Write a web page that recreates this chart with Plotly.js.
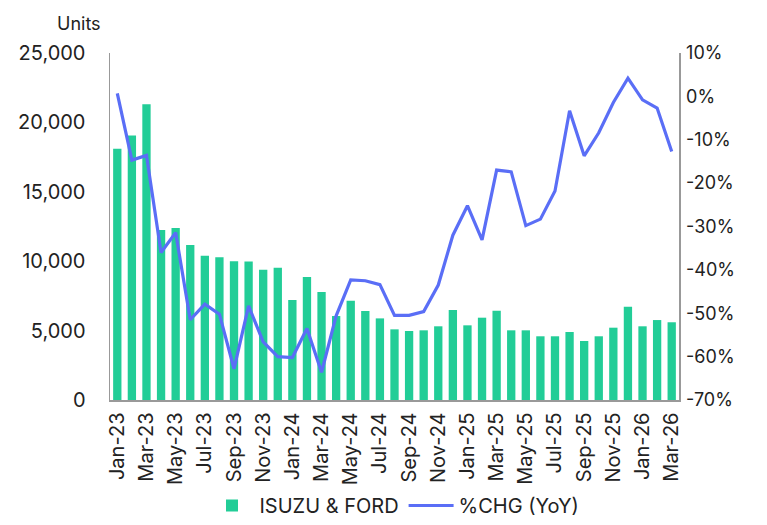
<!DOCTYPE html>
<html>
<head>
<meta charset="utf-8">
<script src="https://cdn.plot.ly/plotly-3.0.1.min.js"></script>
<style>html,body{margin:0;padding:0;background:#fff;}#chart{width:767px;height:525px;}</style>
</head>
<body>
<div id="chart"></div>
<script>
const months = ["Jan-23","Feb-23","Mar-23","Apr-23","May-23","Jun-23","Jul-23","Aug-23","Sep-23","Oct-23","Nov-23","Dec-23",
"Jan-24","Feb-24","Mar-24","Apr-24","May-24","Jun-24","Jul-24","Aug-24","Sep-24","Oct-24","Nov-24","Dec-24",
"Jan-25","Feb-25","Mar-25","Apr-25","May-25","Jun-25","Jul-25","Aug-25","Sep-25","Oct-25","Nov-25","Dec-25",
"Jan-26","Feb-26","Mar-26"];
const units = [18100,19050,21300,12250,12400,11170,10400,10280,9990,9970,9390,9530,
7200,8860,7780,6050,7150,6410,5880,5090,4970,5020,5310,6480,
5380,5930,6430,5020,5020,4590,4590,4900,4250,4590,5210,6720,
5310,5760,5600];
const pctChg = [0.7,-14.7,-13.6,-36.0,-31.4,-51.5,-47.9,-50.2,-62.8,-48.3,-56.6,-60.0,
-60.2,-53.5,-63.6,-50.6,-42.3,-42.5,-43.4,-50.5,-50.5,-49.6,-43.5,-32.0,
-25.2,-33.1,-17.0,-17.4,-29.8,-28.3,-21.8,-3.3,-13.7,-8.4,-1.4,4.2,
-0.8,-2.7,-12.7];
const tickLabels = ["Jan-23","Mar-23","May-23","Jul-23","Sep-23","Nov-23","Jan-24","Mar-24","May-24","Jul-24",
"Sep-24","Nov-24","Jan-25","Mar-25","May-25","Jul-25","Sep-25","Nov-25","Jan-26","Mar-26"];
const leftTicks = [0,5000,10000,15000,20000,25000];
const rightTicks = [-70,-60,-50,-40,-30,-20,-10,0,10];
const rightTickText = ["-70%","-60%","-50%","-40%","-30%","-20%","-10%","0%","10%"];

const FONT = "Inter, 'Open Sans', sans-serif";
const data = [
  {type:"bar", x:months, y:units, name:"ISUZU & FORD", marker:{color:"#22CD97"}, yaxis:"y"},
  {type:"scatter", mode:"lines", x:months, y:pctChg, name:"%CHG (YoY)", yaxis:"y2",
   line:{color:"#5A6EF6", width:3.2}}
];
const layout = {
  width:767, height:525,
  margin:{l:110, r:88, t:53, b:125, autoexpand:false},
  paper_bgcolor:"#fff", plot_bgcolor:"#fff",
  font:{family:FONT, color:"#222", size:17},
  bargap:0.43,
  showlegend:true,
  legend:{orientation:"h", x:0.5, xanchor:"center", yref:"container", y:0.0, yanchor:"bottom", font:{size:20, color:"#222"}, itemwidth:45, traceorder:"normal"},
  xaxis:{type:"category", tickmode:"array", tickvals:tickLabels, ticktext:tickLabels, tickangle:-90, automargin:false,
    showline:true, linecolor:"#999", linewidth:1.5, ticks:"", showgrid:false, tickfont:{size:20}, ticklabelstandoff:3, range:[-0.5,38.5]},
  yaxis:{range:[0,25000], tickvals:leftTicks, tickformat:",d", showgrid:false, zeroline:false, automargin:false,
    showline:true, linecolor:"#999", linewidth:1.5, ticks:"", tickfont:{size:20}, ticklabelstandoff:19},
  yaxis2:{overlaying:"y", side:"right", range:[-70,10], tickvals:rightTicks, ticktext:rightTickText, showgrid:false, zeroline:false, automargin:false,
    showline:true, linecolor:"#999", linewidth:1.5, ticks:"", tickfont:{size:18}, ticklabelstandoff:2},
  annotations:[{text:"Units", xref:"paper", yref:"paper", x:-0.055, y:1.05, xanchor:"center", yanchor:"bottom",
    showarrow:false, font:{size:18, color:"#222"}}]
};
Plotly.newPlot("chart", data, layout, {displayModeBar:false, staticPlot:true});
</script>
</body>
</html>
